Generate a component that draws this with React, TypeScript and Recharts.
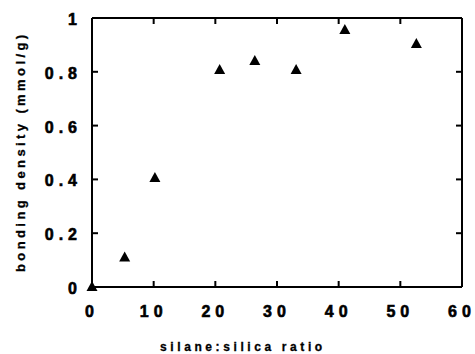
import {
  ScatterChart,
  Scatter,
  XAxis,
  YAxis,
} from "recharts";

// silane:silica ratio vs bonding density
const ratio = [0, 5.3, 10.2, 20.7, 26.4, 33.1, 41.0, 52.6];
const density = [0, 0.11, 0.405, 0.807, 0.84, 0.807, 0.955, 0.903];

const xTicks = [0, 10, 20, 30, 40, 50, 60];
const yTicks = [0, 0.2, 0.4, 0.6, 0.8, 1];

const xTitle = "silane:silica ratio";
const yTitle = "bonding density (mmol/g)";

const data = ratio.map((r, i) => ({ ratio: r, density: density[i] }));

const WIDTH = 475;
const HEIGHT = 354;
const MARGIN = { top: 0, right: 0, bottom: 37, left: 32 };
const TOP_H = 18;
const BOTTOM_H = 30;
const LEFT_W = 60;
const RIGHT_W = 13;
// plot box size, used to mirror the tick marks onto the top / right frame
const PLOT_W = WIDTH - MARGIN.left - MARGIN.right - LEFT_W - RIGHT_W;
const PLOT_H = HEIGHT - MARGIN.top - MARGIN.bottom - TOP_H - BOTTOM_H;

const FONT = "'Liberation Sans', Arial, sans-serif";
const TICK_LEN = 6;

const labelStyle = {
  fontFamily: FONT,
  fontWeight: 700,
  fontSize: 16,
  fill: "#000",
  stroke: "#000",
  strokeWidth: 0.6,
  letterSpacing: 5,
};

const Triangle = (props: any) => {
  const { cx, cy } = props;
  if (cx == null || cy == null) return null;
  return (
    <polygon
      points={`${cx},${cy - 6} ${cx - 5.5},${cy + 4} ${cx + 5.5},${cy + 4}`}
      fill="#000"
    />
  );
};

// inward tick marks on both opposite sides + label
const BottomTick = ({ x, y, payload }: any) => (
  <g>
    <line x1={x} y1={y} x2={x} y2={y - TICK_LEN} stroke="#000" strokeWidth={2} />
    <line x1={x} y1={y - PLOT_H} x2={x} y2={y - PLOT_H + TICK_LEN} stroke="#000" strokeWidth={2} />
    <text x={x} y={y + 30} textAnchor="middle" {...labelStyle}>
      {payload.value}
    </text>
  </g>
);

const LeftTick = ({ x, y, payload }: any) => (
  <g>
    <line x1={x} y1={y} x2={x + TICK_LEN} y2={y} stroke="#000" strokeWidth={2} />
    <line x1={x + PLOT_W} y1={y} x2={x + PLOT_W - TICK_LEN} y2={y} stroke="#000" strokeWidth={2} />
    <text x={x - 10} y={y + 7} textAnchor="end" {...labelStyle}>
      {payload.value}
    </text>
  </g>
);

const XTitle = ({ viewBox }: any) => {
  const { x, y } = viewBox;
  return (
    <text
      x={x + 68}
      y={y + 64}
      textAnchor="start"
      fontFamily={FONT}
      fontWeight={700}
      fontSize={12}
      letterSpacing={3.6}
      stroke="#000"
      strokeWidth={0.3}
      fill="#000"
    >
      {xTitle}
    </text>
  );
};

const YTitle = ({ viewBox }: any) => {
  const { y, height } = viewBox;
  const cx = 20;
  const cy = y + height - 15;
  return (
    <text
      x={cx}
      y={cy}
      transform={`rotate(-90, ${cx}, ${cy})`}
      textAnchor="start"
      dominantBaseline="central"
      fontFamily={FONT}
      fontWeight={700}
      fontSize={13}
      letterSpacing={3.4}
      stroke="#000"
      strokeWidth={0.3}
      fill="#000"
    >
      {yTitle}
    </text>
  );
};

export default function App() {
  return (
    <div style={{ position: "absolute", left: 0, top: 0, background: "#fff" }}>
      <ScatterChart width={WIDTH} height={HEIGHT} margin={MARGIN}>
        <XAxis
          xAxisId="bottom"
          dataKey="ratio"
          type="number"
          domain={[0, 60]}
          ticks={xTicks}
          height={BOTTOM_H}
          axisLine={{ stroke: "#000", strokeWidth: 2 }}
          tickLine={false}
          tickSize={0}
          tickMargin={0}
          tick={<BottomTick />}
          label={<XTitle />}
        />
        <XAxis
          xAxisId="top"
          orientation="top"
          type="number"
          domain={[0, 60]}
          ticks={xTicks}
          height={TOP_H}
          axisLine={{ stroke: "#000", strokeWidth: 2 }}
          tick={false}
        />
        <YAxis
          yAxisId="left"
          dataKey="density"
          type="number"
          domain={[0, 1]}
          ticks={yTicks}
          width={LEFT_W}
          axisLine={{ stroke: "#000", strokeWidth: 2 }}
          tickLine={false}
          tickSize={0}
          tickMargin={0}
          tick={<LeftTick />}
          label={<YTitle />}
        />
        <YAxis
          yAxisId="right"
          orientation="right"
          type="number"
          domain={[0, 1]}
          ticks={yTicks}
          width={RIGHT_W}
          axisLine={{ stroke: "#000", strokeWidth: 2 }}
          tick={false}
        />
        <Scatter
          data={data}
          xAxisId="bottom"
          yAxisId="left"
          shape={<Triangle />}
          isAnimationActive={false}
        />
      </ScatterChart>
    </div>
  );
}
